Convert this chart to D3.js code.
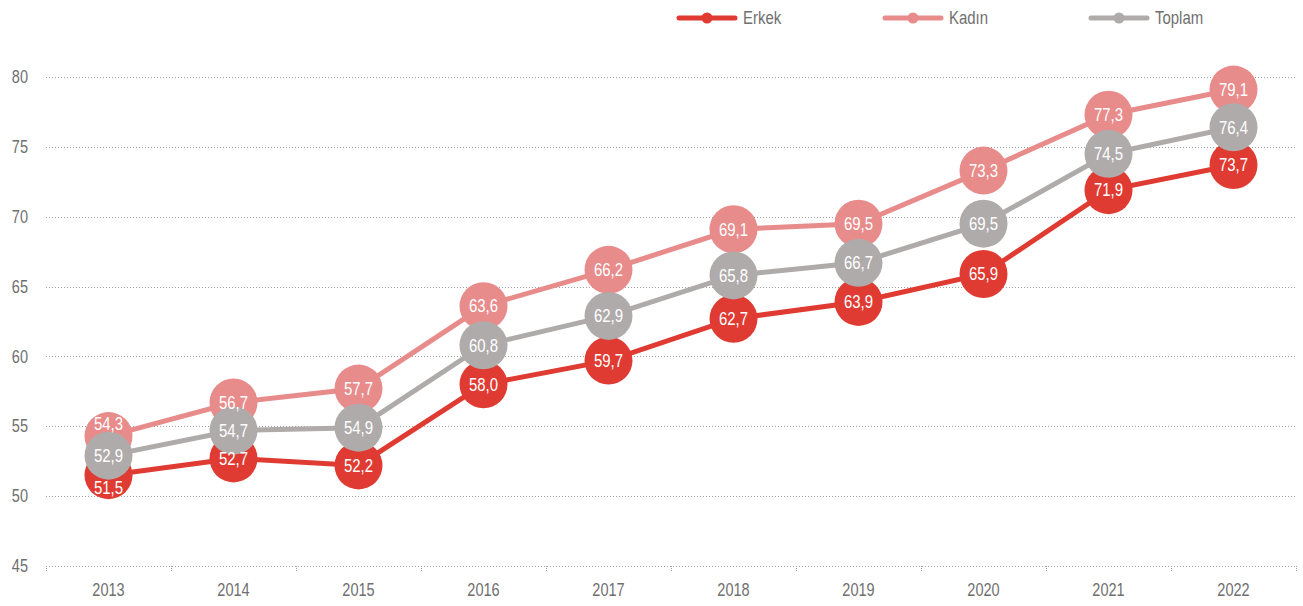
<!DOCTYPE html>
<html lang="tr">
<head>
<meta charset="UTF-8">
<title>Chart</title>
<script src="https://cdnjs.cloudflare.com/ajax/libs/d3/7.8.5/d3.min.js"></script>
<style>
  body { margin: 0; background: #fff; }
  text { font-family: "Liberation Sans", Arial, sans-serif; }
  .tick text { fill: #6f6f6f; font-size: 17.5px; }
  .val { fill: #fff; font-size: 18px; }
  .leg { fill: #707070; font-size: 18px; }
</style>
</head>
<body>
<script>
  // veriler
  let years = ['2013','2014','2015','2016','2017','2018','2019','2020','2021','2022'];
  let erkek = [51.5, 52.7, 52.2, 58.0, 59.7, 62.7, 63.9, 65.9, 71.9, 73.7];
  let kadin = [54.3, 56.7, 57.7, 63.6, 66.2, 69.1, 69.5, 73.3, 77.3, 79.1];
  let toplam = [52.9, 54.7, 54.9, 60.8, 62.9, 65.8, 66.7, 69.5, 74.5, 76.4];
  let yTicks = [45, 50, 55, 60, 65, 70, 75, 80];

  let series = [
    {name: 'Erkek', values: erkek, color: '#e03b33'},
    {name: 'Kadın', values: kadin, color: '#e88b8b'},
    {name: 'Toplam', values: toplam, color: '#afabab'}
  ];

  let width = 1303, height = 606;
  let margin = {left: 46, right: 7, top: 77, bottom: 40};
  let narrow = 0.83; // dar yazı tipi taklidi

  let svg = d3.select('body').append('svg')
      .attr('width', width)
      .attr('height', height);

  let x = d3.scaleBand()
      .domain(years)
      .range([margin.left, width - margin.right]);

  let y = d3.scaleLinear()
      .domain([45, 80])
      .range([566, margin.top]);

  // yatay kılavuz çizgileri
  svg.append('g')
    .selectAll('line')
    .data(yTicks)
    .enter().append('line')
      .attr('x1', margin.left)
      .attr('x2', width - margin.right)
      .attr('y1', d => Math.round(y(d)) + 0.5)
      .attr('y2', d => Math.round(y(d)) + 0.5)
      .attr('stroke', '#a0a0a0')
      .attr('stroke-width', 1)
      .attr('stroke-dasharray', '1,2');

  // y ekseni etiketleri
  let yAxis = svg.append('g')
      .attr('transform', 'translate(28,0)')
      .call(d3.axisLeft(y).tickValues(yTicks).tickSize(0).tickPadding(0));
  yAxis.select('.domain').remove();
  yAxis.selectAll('text').attr('transform', 'scale(' + narrow + ',1)');

  // x ekseni
  let xAxis = svg.append('g')
      .attr('transform', 'translate(0,' + (Math.round(y(45)) + 0.5) + ')')
      .call(d3.axisBottom(x).tickSize(0).tickPadding(17));
  xAxis.select('.domain').remove();
  xAxis.selectAll('text').attr('transform', 'scale(' + narrow + ',1)');

  // kategori sınır çentikleri
  let bounds = years.map(d => x(d)).concat([x(years[years.length - 1]) + x.bandwidth()]);
  svg.append('g')
    .selectAll('line')
    .data(bounds)
    .enter().append('line')
      .attr('x1', d => Math.round(d) + 0.5)
      .attr('x2', d => Math.round(d) + 0.5)
      .attr('y1', Math.round(y(45)))
      .attr('y2', Math.round(y(45)) + 5)
      .attr('stroke', '#a0a0a0')
      .attr('stroke-dasharray', '1,1');

  let cx = i => x(years[i]) + x.bandwidth() / 2;

  let line = d3.line()
      .x((d, i) => cx(i))
      .y(d => y(d));

  series.forEach(function(s) {
    let g = svg.append('g');
    g.append('path')
      .datum(s.values)
      .attr('d', line)
      .attr('fill', 'none')
      .attr('stroke', s.color)
      .attr('stroke-width', 5);

    g.selectAll('circle')
      .data(s.values)
      .enter().append('circle')
        .attr('cx', (d, i) => cx(i))
        .attr('cy', d => y(d))
        .attr('r', 24)
        .attr('fill', s.color);
  });

  // değer etiketleri (en üstte); toplam dairesine çok yakınsa kaydır
  let labels = svg.append('g');
  series.forEach(function(s) {
    labels.selectAll(null)
      .data(s.values)
      .enter().append('text')
        .attr('class', 'val')
        .attr('text-anchor', 'middle')
        .attr('dy', '0.35em')
        .attr('transform', function(d, i) {
          let yy = y(d);
          if (s.values !== toplam) {
            let gap = yy - y(toplam[i]);
            if (Math.abs(gap) < 25) yy += gap > 0 ? 13 : -12;
          }
          return 'translate(' + cx(i) + ',' + yy + ') scale(' + narrow + ',1)';
        })
        .text(d => d.toFixed(1).replace('.', ','));
  });

  // gösterge
  let legX = [677, 883, 1089];
  let leg = svg.append('g')
    .selectAll('g')
    .data(series)
    .enter().append('g')
      .attr('transform', (d, i) => 'translate(' + legX[i] + ',18)');

  leg.append('line')
    .attr('x1', 2).attr('x2', 58)
    .attr('stroke', d => d.color)
    .attr('stroke-width', 5)
    .attr('stroke-linecap', 'round');

  leg.append('circle')
    .attr('cx', 30)
    .attr('r', 5.5)
    .attr('fill', d => d.color);

  leg.append('text')
    .attr('class', 'leg')
    .attr('transform', 'translate(66,0) scale(' + narrow + ',1)')
    .attr('dy', '0.35em')
    .text(d => d.name);
</script>
</body>
</html>
